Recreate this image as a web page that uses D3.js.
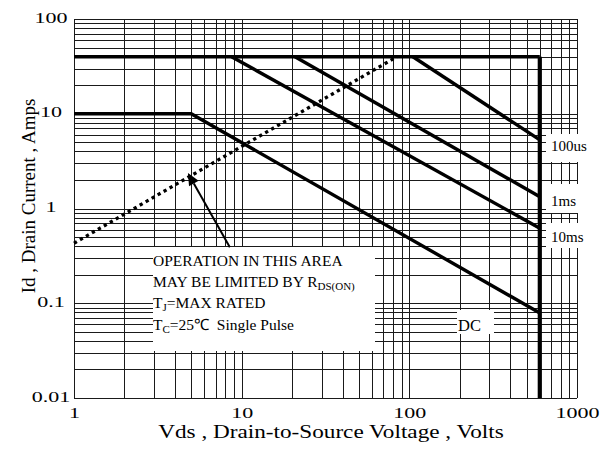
<!DOCTYPE html>
<html>
<head>
<meta charset="utf-8">
<script src="https://cdn.jsdelivr.net/npm/d3@7"></script>
<style>
  html, body { margin: 0; padding: 0; background: #fff; }
  svg { display: block; }
</style>
</head>
<body>
<div id="chart"></div>
<script>
// ---------------- data ----------------
const xTickValues = [1, 10, 100, 1000];
const xTickLabels = ["1", "10", "100", "1000"];
const yTickValues = [0.01, 0.1, 1, 10, 100];
const yTickLabels = ["0.01", "0.1", "1", "10", "100"];

// Safe operating area boundaries (Vds in volts, Id in amps)
const limitV = [1, 600];          // package current limit
const limitI = [40, 40];
const bvdssV = [600, 600];        // breakdown voltage limit
const bvdssI = [40, 0.01];
const dcV = [1, 5, 600];
const dcI = [10, 10, 0.079];
const ms10V = [8.7, 600];
const ms10I = [40, 0.62];
const ms1V = [20.8, 600];
const ms1I = [40, 1.33];
const us100V = [105, 600];
const us100I = [40, 5.3];
const rdsV = [1, 84.4];           // Rds(on) limit (dotted)
const rdsI = [0.43, 40];

const seriesNames = ["100us", "1ms", "10ms", "DC"];
const arrowV = [8.5, 4.78];       // tail -> tip
const arrowI = [0.39, 2.37];

const noteLines = ["OPERATION IN THIS AREA", "MAY BE LIMITED BY R", "T", "T"];

// ---------------- layout ----------------
const W = 614, H = 455;
const svg = d3.select("#chart").append("svg")
  .attr("width", W).attr("height", H)
  .style("background", "#fff");

const x = d3.scaleLog().domain([1, 1000]).range([74, 577]);
const y = d3.scaleLog().domain([0.01, 100]).range([398, 19]);

// grid values (1..9 per decade)
const gridX = [];
for (let d = 1; d < 1000; d *= 10) for (let k = 1; k <= 9; k++) gridX.push(k * d);
gridX.push(1000);
const gridY = [];
for (let d = 0.01; d < 100; d *= 10) for (let k = 1; k <= 9; k++) gridY.push(+(k * d).toPrecision(3));
gridY.push(100);

const grid = svg.append("g").attr("stroke", "#1a1a1a").attr("stroke-width", 1)
  .attr("shape-rendering", "crispEdges");
grid.selectAll("line.v").data(gridX).join("line").attr("class", "v")
  .attr("x1", d => Math.round(x(d)) + 0.5).attr("x2", d => Math.round(x(d)) + 0.5)
  .attr("y1", y(100)).attr("y2", y(0.01));
grid.selectAll("line.h").data(gridY).join("line").attr("class", "h")
  .attr("y1", d => Math.round(y(d)) + 0.5).attr("y2", d => Math.round(y(d)) + 0.5)
  .attr("x1", x(1)).attr("x2", x(1000));

// white masks behind annotations
const masks = [
  [153, 247, 222, 104],
  [546, 134, 46, 28],
  [546, 184, 46, 29],
  [546, 223, 46, 25],
  [457, 310, 37, 24]
];
svg.append("g").selectAll("rect").data(masks).join("rect")
  .attr("x", d => d[0]).attr("y", d => d[1]).attr("width", d => d[2]).attr("height", d => d[3])
  .attr("fill", "#fff");

// ---------------- data lines ----------------
const line = d3.line().x(d => x(d[0])).y(d => y(d[1]));
const zip = (a, b) => a.map((v, i) => [v, b[i]]);

const solid = [
  { pts: zip(limitV, limitI), w: 3.4 },
  { pts: zip(dcV, dcI), w: 3.4 },
  { pts: zip(ms10V, ms10I), w: 3.4 },
  { pts: zip(ms1V, ms1I), w: 3.4 },
  { pts: zip(us100V, us100I), w: 3.4 },
  { pts: zip(bvdssV, bvdssI), w: 4.2 }
];
svg.append("g").selectAll("path").data(solid).join("path")
  .attr("d", d => line(d.pts)).attr("fill", "none").attr("stroke", "#000")
  .attr("stroke-width", d => d.w).attr("stroke-linejoin", "miter");

svg.append("path").attr("d", line(zip(rdsV, rdsI)))
  .attr("fill", "none").attr("stroke", "#000").attr("stroke-width", 3.3)
  .attr("stroke-dasharray", "3.3 3.6");

// arrow
const tail = [x(arrowV[0]), y(arrowI[0])], tip = [x(arrowV[1]), y(arrowI[1])];
const ang = Math.atan2(tip[1] - tail[1], tip[0] - tail[0]);
const hl = 12, hw = 5.5;
const bx = tip[0] - hl * Math.cos(ang), by = tip[1] - hl * Math.sin(ang);
svg.append("line").attr("x1", tail[0]).attr("y1", tail[1]).attr("x2", bx).attr("y2", by)
  .attr("stroke", "#000").attr("stroke-width", 2);
svg.append("path")
  .attr("d", `M${tip[0]},${tip[1]}L${bx + hw * Math.sin(ang)},${by - hw * Math.cos(ang)}L${bx - hw * Math.sin(ang)},${by + hw * Math.cos(ang)}Z`)
  .attr("fill", "#000");

// ---------------- text ----------------
const serif = "'Liberation Serif', 'Times New Roman', serif";

// tick labels (stretched Times look)
svg.append("g").selectAll("text").data(yTickValues).join("text")
  .attr("transform", d => `translate(51,${y(d) + 3.5}) scale(1.42,1)`)
  .attr("text-anchor", "middle").attr("font-family", serif).attr("font-size", 15.5)
  .attr("fill", "#000").text((d, i) => yTickLabels[i]);
svg.append("g").selectAll("text").data(xTickValues).join("text")
  .attr("transform", d => `translate(${x(d) + 0.5},418) scale(1.42,1)`)
  .attr("text-anchor", "middle").attr("font-family", serif).attr("font-size", 15.5)
  .attr("fill", "#000").text((d, i) => xTickLabels[i]);

// axis titles
svg.append("text").attr("transform", "translate(331,438) scale(1.19,1)")
  .attr("text-anchor", "middle").attr("font-family", serif).attr("font-size", 19.5)
  .attr("fill", "#000").text("Vds , Drain-to-Source Voltage , Volts");
svg.append("text").attr("transform", "translate(35,196) rotate(-90)")
  .attr("text-anchor", "middle").attr("font-family", serif).attr("font-size", 19)
  .attr("fill", "#000").text("Id , Drain Current , Amps");

// series labels
const labelPos = [[551, 151], [551, 205.5], [551, 241.5]];
svg.append("g").selectAll("text").data(seriesNames.slice(0, 3)).join("text")
  .attr("x", (d, i) => labelPos[i][0]).attr("y", (d, i) => labelPos[i][1])
  .attr("font-family", serif).attr("font-size", 15).attr("fill", "#000").text(d => d);
svg.append("text").attr("x", 458).attr("y", 331)
  .attr("font-family", serif).attr("font-size", 16.5).attr("fill", "#000").text(seriesNames[3]);

// note box
const note = svg.append("g").attr("font-family", serif).attr("font-size", 15.5).attr("fill", "#000");
note.append("text").attr("x", 153).attr("y", 266).text(noteLines[0]);
const t2 = note.append("text").attr("x", 153).attr("y", 287);
t2.append("tspan").text(noteLines[1]);
t2.append("tspan").attr("font-size", 11).attr("dy", 3).text("DS(ON)");
const t3 = note.append("text").attr("x", 153).attr("y", 307.5);
t3.append("tspan").text(noteLines[2]);
t3.append("tspan").attr("font-size", 11).attr("dy", 3).text("J");
t3.append("tspan").attr("dy", -3).text("=MAX RATED");
const t4 = note.append("text").attr("x", 153).attr("y", 330);
t4.append("tspan").text(noteLines[3]);
t4.append("tspan").attr("font-size", 11).attr("dy", 3).text("C");
t4.append("tspan").attr("dy", -3).text("=25\u2103\u00a0 Single Pulse");
</script>
</body>
</html>
